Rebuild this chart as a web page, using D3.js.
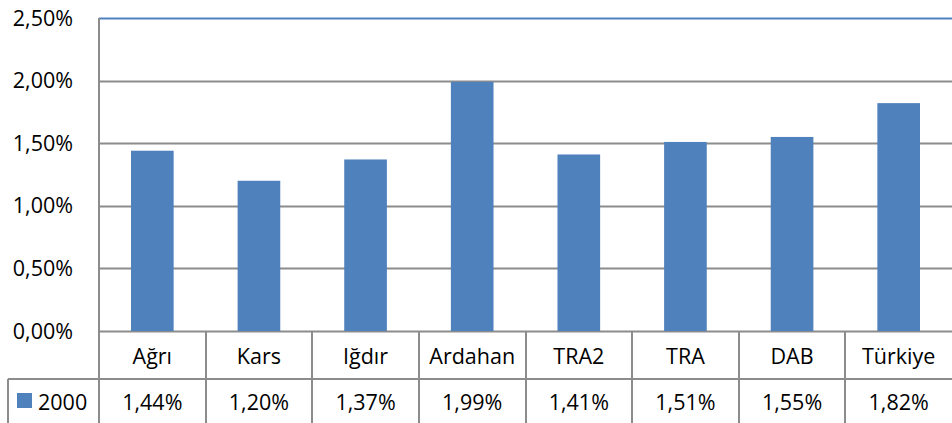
<!DOCTYPE html>
<html>
<head>
<meta charset="utf-8">
<script src="https://cdn.jsdelivr.net/npm/d3@7"></script>
<style>
  body { margin: 0; background: #fff; }
  svg { display: block; font-family: "Open Sans", "Liberation Sans", sans-serif; }
</style>
</head>
<body>
<svg width="952" height="423"></svg>
<script>
var categories = ['Ağrı', 'Kars', 'Iğdır', 'Ardahan', 'TRA2', 'TRA', 'DAB', 'Türkiye'];
var values2000 = [1.44, 1.20, 1.37, 1.99, 1.41, 1.51, 1.55, 1.82];
var seriesName = '2000';
var yTicks = [0, 0.5, 1.0, 1.5, 2.0, 2.5];

var svg = d3.select('svg'),
  width = +svg.attr('width'),
  height = +svg.attr('height');

var plotLeft = 99, plotRight = 952, plotTop = 18, plotBottom = 331,
  rowH = 48, tableLeft = 8, fs = 21.5;

var fmt = function(v) {
  return v.toFixed(2).replace('.', ',') + '%';
};

var x = d3.scaleBand().domain(categories).range([plotLeft, plotRight]);
var y = d3.scaleLinear().domain([0, 2.5]).range([plotBottom, plotTop]);

var grid = '#8c8c8c', blue = '#4f81bd';

// gridlines (top one is blue in the original)
svg.append('g')
  .selectAll('line')
  .data(yTicks)
  .enter()
  .append('line')
  .attr('x1', plotLeft)
  .attr('x2', plotRight)
  .attr('y1', function(d) { return Math.round(y(d)) + 0.5; })
  .attr('y2', function(d) { return Math.round(y(d)) + 0.5; })
  .attr('stroke', function(d) { return d === 2.5 ? blue : grid; })
  .attr('stroke-width', 2);

// y tick labels
svg.append('g')
  .selectAll('text')
  .data(yTicks)
  .enter()
  .append('text')
  .attr('x', 73)
  .attr('y', function(d) { return y(d); })
  .attr('dy', '0.35em')
  .attr('text-anchor', 'end')
  .attr('font-size', fs)
  .text(fmt);

// bars
var bw = x.bandwidth() * 0.4;
svg.append('g')
  .selectAll('rect')
  .data(values2000)
  .enter()
  .append('rect')
  .attr('x', function(d, i) { return x(categories[i]) + (x.bandwidth() - bw) / 2; })
  .attr('y', function(d) { return y(d); })
  .attr('width', bw)
  .attr('height', function(d) { return plotBottom - y(d); })
  .attr('fill', blue);

// data table lines
var tbl = svg.append('g').attr('stroke', grid).attr('stroke-width', 2);
tbl.append('line')
  .attr('x1', plotLeft).attr('x2', plotLeft)
  .attr('y1', plotTop).attr('y2', height);
tbl.append('line')
  .attr('x1', tableLeft).attr('x2', plotRight)
  .attr('y1', plotBottom + rowH).attr('y2', plotBottom + rowH);
tbl.append('line')
  .attr('x1', tableLeft).attr('x2', tableLeft)
  .attr('y1', plotBottom + rowH).attr('y2', height);
tbl.selectAll('line.col')
  .data(categories.slice(1))
  .enter()
  .append('line')
  .attr('class', 'col')
  .attr('x1', function(d) { return Math.round(x(d)); })
  .attr('x2', function(d) { return Math.round(x(d)); })
  .attr('y1', plotBottom)
  .attr('y2', height);

// category labels
svg.append('g')
  .selectAll('text')
  .data(categories)
  .enter()
  .append('text')
  .attr('x', function(d) { return x(d) + x.bandwidth() / 2; })
  .attr('y', plotBottom + rowH / 2 + 1)
  .attr('dy', '0.35em')
  .attr('text-anchor', 'middle')
  .attr('font-size', fs)
  .text(function(d) { return d; });

// values row
svg.append('g')
  .selectAll('text')
  .data(values2000)
  .enter()
  .append('text')
  .attr('x', function(d, i) { return x(categories[i]) + x.bandwidth() / 2; })
  .attr('y', plotBottom + rowH + 23)
  .attr('dy', '0.35em')
  .attr('text-anchor', 'middle')
  .attr('font-size', fs)
  .text(fmt);

// legend key
svg.append('rect')
  .attr('x', 17).attr('y', 393)
  .attr('width', 15).attr('height', 15)
  .attr('fill', blue);
svg.append('text')
  .attr('x', 38)
  .attr('y', plotBottom + rowH + 23)
  .attr('dy', '0.35em')
  .attr('font-size', fs)
  .text(seriesName);
</script>
</body>
</html>
